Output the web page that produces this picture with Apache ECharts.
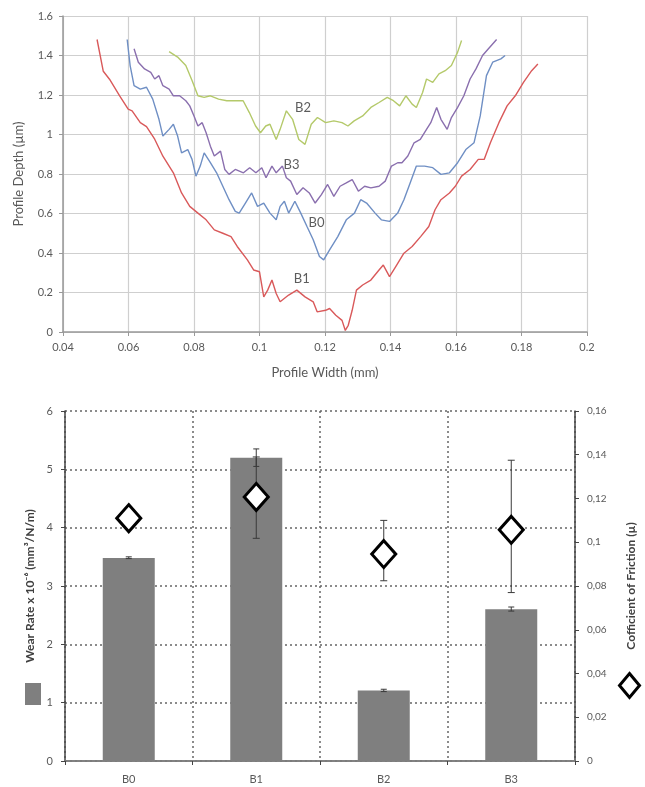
<!DOCTYPE html>
<html>
<head>
<meta charset="utf-8">
<script src="https://cdn.jsdelivr.net/npm/echarts@6/dist/echarts.min.js"></script>
<style>
html,body{margin:0;padding:0;background:#fff;}
#chart{width:645px;height:787px;}
</style>
</head>
<body>
<div id="chart"></div>
<script>
// ---------- Top chart: profile lines ----------
const profileB1 = [[0.0504,1.481],[0.0523,1.32],[0.0542,1.28],[0.0573,1.196],[0.0599,1.128],[0.0611,1.12],[0.0636,1.06],[0.0655,1.04],[0.068,0.976],[0.0705,0.89],[0.0737,0.806],[0.0762,0.704],[0.0787,0.636],[0.0812,0.602],[0.0837,0.568],[0.0862,0.517],[0.0888,0.50],[0.0913,0.483],[0.0932,0.433],[0.0963,0.365],[0.0982,0.314],[0.1,0.305],[0.1013,0.178],[0.1025,0.212],[0.1038,0.263],[0.1051,0.195],[0.1063,0.153],[0.1089,0.187],[0.1114,0.212],[0.1139,0.178],[0.1164,0.153],[0.1176,0.102],[0.1202,0.110],[0.1214,0.119],[0.1233,0.085],[0.1252,0.059],[0.1262,0.008],[0.1271,0.034],[0.1283,0.110],[0.1296,0.212],[0.1315,0.238],[0.134,0.263],[0.1365,0.314],[0.1378,0.339],[0.1397,0.280],[0.1416,0.331],[0.1441,0.399],[0.1466,0.433],[0.1492,0.483],[0.1517,0.534],[0.1536,0.619],[0.1554,0.670],[0.158,0.704],[0.1598,0.738],[0.1617,0.789],[0.1643,0.823],[0.1668,0.874],[0.1686,0.874],[0.1705,0.958],[0.1731,1.06],[0.1756,1.145],[0.1781,1.196],[0.1806,1.264],[0.1831,1.323],[0.185,1.357]];
const profileB0 = [[0.0596,1.481],[0.0605,1.349],[0.0617,1.247],[0.0636,1.23],[0.0655,1.239],[0.0674,1.179],[0.0693,1.077],[0.0705,0.992],[0.0724,1.026],[0.0737,1.052],[0.075,0.992],[0.0762,0.907],[0.0781,0.924],[0.0794,0.874],[0.0806,0.789],[0.0819,0.840],[0.0831,0.907],[0.085,0.857],[0.0869,0.806],[0.0888,0.738],[0.0907,0.670],[0.0926,0.611],[0.0938,0.602],[0.0957,0.653],[0.0976,0.704],[0.0994,0.636],[0.1013,0.653],[0.1032,0.602],[0.1051,0.568],[0.1063,0.636],[0.1076,0.662],[0.1089,0.602],[0.1108,0.662],[0.1126,0.602],[0.1145,0.534],[0.1164,0.467],[0.1183,0.382],[0.1196,0.365],[0.1214,0.416],[0.1239,0.483],[0.1265,0.568],[0.129,0.602],[0.1309,0.670],[0.1327,0.653],[0.1353,0.602],[0.1372,0.568],[0.1397,0.560],[0.1422,0.602],[0.1441,0.670],[0.146,0.755],[0.1479,0.840],[0.1504,0.840],[0.1529,0.832],[0.1554,0.798],[0.158,0.806],[0.1605,0.857],[0.163,0.924],[0.1655,0.958],[0.1674,1.094],[0.1693,1.298],[0.1712,1.366],[0.1737,1.383],[0.175,1.400]];
const profileB3 = [[0.0617,1.434],[0.063,1.366],[0.0649,1.332],[0.0668,1.315],[0.068,1.281],[0.0693,1.298],[0.0705,1.247],[0.0724,1.23],[0.0737,1.196],[0.0756,1.196],[0.0775,1.171],[0.0787,1.145],[0.08,1.094],[0.0812,1.043],[0.0825,1.060],[0.0837,1.009],[0.085,0.941],[0.0862,0.891],[0.0881,0.916],[0.0894,0.823],[0.0907,0.798],[0.0926,0.823],[0.0951,0.806],[0.097,0.832],[0.0989,0.806],[0.1007,0.832],[0.102,0.781],[0.1038,0.840],[0.1051,0.806],[0.107,0.840],[0.1082,0.781],[0.1095,0.764],[0.1114,0.696],[0.1133,0.730],[0.1152,0.704],[0.117,0.653],[0.1189,0.696],[0.1208,0.747],[0.1227,0.687],[0.1246,0.738],[0.1265,0.755],[0.1283,0.772],[0.1302,0.713],[0.1321,0.738],[0.134,0.730],[0.1365,0.738],[0.1384,0.764],[0.1403,0.840],[0.1422,0.857],[0.1435,0.857],[0.1453,0.891],[0.1472,0.958],[0.1491,0.975],[0.151,1.026],[0.1523,1.060],[0.1541,1.137],[0.1554,1.077],[0.1573,1.026],[0.1586,1.086],[0.1605,1.137],[0.1624,1.196],[0.1643,1.281],[0.1661,1.332],[0.1681,1.400],[0.1699,1.434],[0.1724,1.481]];
const profileB2 = [[0.0724,1.420],[0.075,1.392],[0.0775,1.349],[0.0794,1.273],[0.0812,1.196],[0.0831,1.188],[0.085,1.196],[0.0875,1.179],[0.09,1.171],[0.0925,1.171],[0.095,1.171],[0.0969,1.111],[0.0988,1.043],[0.1003,1.009],[0.1019,1.043],[0.1032,1.052],[0.1051,0.975],[0.1063,1.026],[0.1082,1.120],[0.1101,1.077],[0.112,0.975],[0.1139,0.950],[0.1158,1.052],[0.1177,1.086],[0.1202,1.060],[0.1227,1.069],[0.1252,1.060],[0.127,1.043],[0.1289,1.069],[0.1315,1.094],[0.134,1.137],[0.1365,1.162],[0.139,1.188],[0.1409,1.171],[0.1428,1.145],[0.1447,1.196],[0.1466,1.154],[0.1479,1.137],[0.1498,1.213],[0.151,1.281],[0.1529,1.264],[0.1548,1.307],[0.1567,1.323],[0.1586,1.349],[0.1605,1.417],[0.1617,1.476]];
const curveLabels = ['B2', 'B3', 'B0', 'B1'];
const curveLabelX = [0.1133, 0.1098, 0.1174, 0.1129];
const curveLabelY = [1.137, 0.848, 0.555, 0.271];

// ---------- Bottom chart: wear rate and COF ----------
const categories = ['B0', 'B1', 'B2', 'B3'];
const wearRate = [3.48, 5.2, 1.21, 2.60];
const wearLow  = [3.47, 5.05, 1.19, 2.57];
const wearHigh = [3.50, 5.35, 1.23, 2.64];
const cof      = [0.111, 0.1207, 0.0946, 0.1057];
const cofLow   = [0.110, 0.1018, 0.0824, 0.077];
const cofHigh  = [0.112, 0.139, 0.110, 0.1375];

const FONT = 'Lato';
const LBL = '#595959';

function fmtDot(v){ return String(+(+v).toFixed(3)); }
function fmtComma(v){ return String(+(+v).toFixed(3)).replace('.', ','); }

function errRender(capW){
  return function(params, api){
    const lo = api.coord([api.value(0), api.value(1)]);
    const hi = api.coord([api.value(0), api.value(2)]);
    const st = {stroke:'#3a3a3a', lineWidth:1};
    return {type:'group', children:[
      {type:'line', shape:{x1:lo[0], y1:lo[1], x2:hi[0], y2:hi[1]}, style:st},
      {type:'line', shape:{x1:lo[0]-capW/2, y1:lo[1], x2:lo[0]+capW/2, y2:lo[1]}, style:st},
      {type:'line', shape:{x1:hi[0]-capW/2, y1:hi[1], x2:hi[0]+capW/2, y2:hi[1]}, style:st}
    ]};
  };
}

const chart = echarts.init(document.getElementById('chart'), null, {renderer:'canvas'});

const lineSeries = (name, data, color) => ({
  name, type:'line', xAxisIndex:0, yAxisIndex:0, data, showSymbol:false, symbol:'none',
  lineStyle:{color, width:1.4}, smooth:false, z:3, animation:false
});

chart.setOption({
  animation:false,
  backgroundColor:'#fff',
  textStyle:{fontFamily:FONT},
  legend:[
    {data:[{name:'Wear Rate', icon:'rect'}], left:20, top:678, orient:'vertical', itemWidth:16, itemHeight:22,
     formatter:()=>'', selectedMode:false, textStyle:{fontSize:1}},
    {data:[{name:'COF', icon:'diamond'}], left:613, top:667, orient:'vertical', itemWidth:20, itemHeight:24,
     formatter:()=>'', selectedMode:false, textStyle:{fontSize:1},
     itemStyle:{color:'#fff', borderColor:'#000', borderWidth:3}}
  ],
  grid:[
    {left:63, top:16, width:524, height:316},
    {left:65, top:411, width:514, height:350}
  ],
  xAxis:[
    {gridIndex:0, type:'value', min:0.04, max:0.2, interval:0.02,
     name:'Profile Width (mm)', nameLocation:'middle', nameGap:34,
     nameTextStyle:{color:LBL, fontSize:13, fontFamily:FONT},
     axisLine:{show:true, lineStyle:{color:'#999', width:1.5}},
     axisTick:{show:true, length:4, lineStyle:{color:'#999'}},
     axisLabel:{color:LBL, fontSize:11, margin:10, formatter:fmtDot, fontFamily:FONT},
     splitLine:{show:true, lineStyle:{color:'#cfcfcf', width:1.2}}},
    {gridIndex:1, type:'category', data:categories, position:'bottom', boundaryGap:true,
     axisLine:{show:true, lineStyle:{color:'#444', width:1.5}},
     axisTick:{show:true, length:4, lineStyle:{color:'#444'}},
     axisLabel:{color:LBL, fontSize:11, margin:13, fontFamily:FONT},
     splitLine:{show:true, lineStyle:{color:'#666', width:1.5, type:[2,3]}}},
    {gridIndex:1, type:'category', data:categories, position:'top', boundaryGap:true,
     axisLine:{show:true, lineStyle:{color:'#888', width:1.5}},
     axisTick:{show:false}, axisLabel:{show:false}, splitLine:{show:false}}
  ],
  yAxis:[
    {gridIndex:0, type:'value', min:0, max:1.6, interval:0.2,
     name:'Profile Depth (\u00b5m)', nameLocation:'middle', nameGap:38,
     nameTextStyle:{color:LBL, fontSize:13, fontFamily:FONT},
     axisLine:{show:true, lineStyle:{color:'#999', width:1.5}},
     axisTick:{show:true, length:4, lineStyle:{color:'#999'}},
     axisLabel:{color:LBL, fontSize:11, margin:10, formatter:fmtDot, fontFamily:FONT},
     splitLine:{show:true, lineStyle:{color:'#cfcfcf', width:1.2}}},
    {gridIndex:1, type:'value', min:0, max:6, interval:1, position:'left',
     name:'Wear Rate x 10\u207b\u2076 (mm\u00b3/N/m)', nameLocation:'middle', nameGap:28,
     nameTextStyle:{color:'#404040', fontSize:12, fontWeight:'bold', fontFamily:FONT},
     axisLine:{show:true, lineStyle:{color:'#444', width:1.5}},
     axisTick:{show:true, length:4, lineStyle:{color:'#444'}},
     axisLabel:{color:LBL, fontSize:11, margin:12, fontFamily:FONT},
     splitLine:{show:true, lineStyle:{color:'#666', width:1.5, type:[2,3]}}},
    {gridIndex:1, type:'value', min:0, max:0.16, interval:0.02, position:'right',
     name:'Cofficient of Friction (\u00b5)', nameLocation:'middle', nameGap:50,
     nameTextStyle:{color:'#404040', fontSize:12, fontWeight:'bold', fontFamily:FONT},
     axisLine:{show:true, lineStyle:{color:'#444', width:1.5}},
     axisTick:{show:true, length:4, lineStyle:{color:'#444'}},
     axisLabel:{color:LBL, fontSize:10, margin:12, formatter:fmtComma, fontFamily:FONT},
     splitLine:{show:false}}
  ],
  series:[
    lineSeries('B1', profileB1, '#d9595a'),
    lineSeries('B0', profileB0, '#6f8fc4'),
    lineSeries('B3', profileB3, '#8a6fae'),
    lineSeries('B2', profileB2, '#b4c96a'),
    {type:'scatter', xAxisIndex:0, yAxisIndex:0, symbolSize:0, z:5,
     data:curveLabelX.map((x,i)=>[x, curveLabelY[i], curveLabels[i]]),
     label:{show:true, position:'inside', formatter:p=>p.data[2], color:'#333', fontSize:13, fontFamily:FONT},
     silent:true},
    {name:'Wear Rate', type:'bar', xAxisIndex:1, yAxisIndex:1, data:wearRate, barWidth:52,
     itemStyle:{color:'#7f7f7f'}, z:2},
    {type:'custom', xAxisIndex:1, yAxisIndex:1, renderItem:errRender(6), z:4,
     encode:{x:0, y:[1,2]},
     data:categories.map((c,i)=>[i, wearLow[i], wearHigh[i]]), silent:true},
    {type:'custom', xAxisIndex:1, yAxisIndex:2, renderItem:errRender(7), z:4,
     encode:{x:0, y:[1,2]},
     data:categories.map((c,i)=>[i, cofLow[i], cofHigh[i]]), silent:true},
    {name:'COF', type:'scatter', xAxisIndex:1, yAxisIndex:2, data:cof, symbol:'diamond', symbolSize:[24,27],
     itemStyle:{color:'#ffffff', borderColor:'#000', borderWidth:3, opacity:1}, z:6}
  ]
});
</script>
</body>
</html>
